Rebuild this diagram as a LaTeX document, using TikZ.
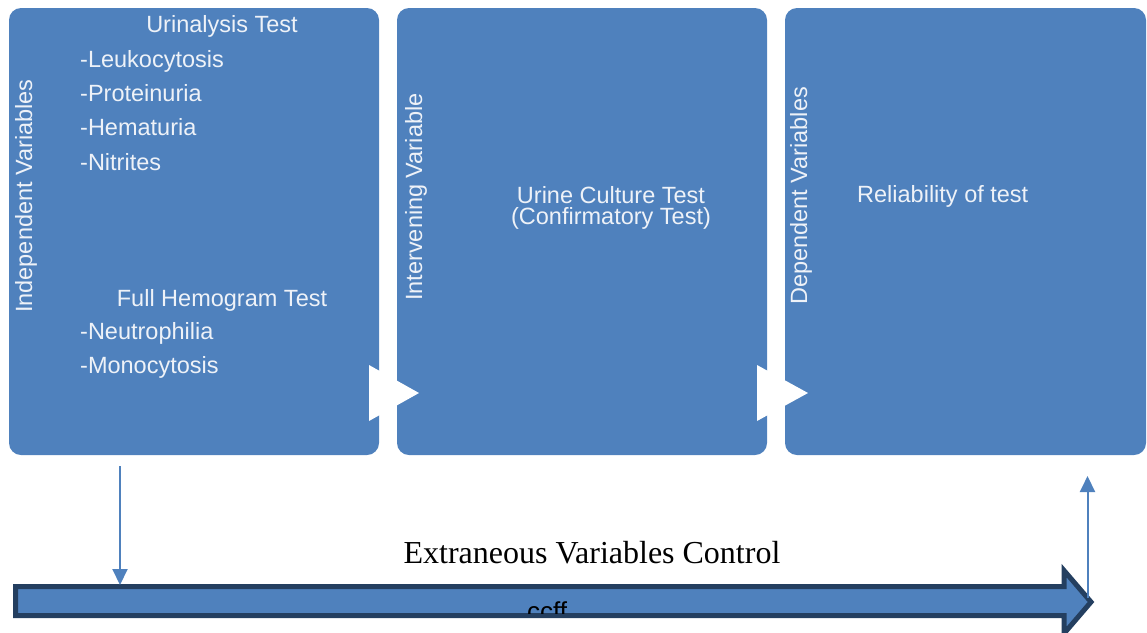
\documentclass[tikz,border=0pt]{standalone}
\usepackage{fontspec}
\newfontfamily\boxfont{Liberation Sans}
\newfontfamily\capfont{Liberation Serif}
\usetikzlibrary{arrows.meta}
\definecolor{boxblue}{HTML}{4F81BD}
\definecolor{navy}{HTML}{243F60}
\definecolor{txt}{HTML}{EEF2F8}
\begin{document}
\begin{tikzpicture}[x=1pt,y=-1pt,
 panel/.style={fill=boxblue, rounded corners=12pt, minimum height=447pt, inner sep=0pt},
 lbl/.style={text=txt, font=\boxfont\fontsize{23.5}{23.5}\selectfont, inner sep=0pt},
 item/.style={lbl, anchor=base west},
 head/.style={lbl, anchor=base},
 side/.style={lbl, rotate=90, anchor=base west},
 link/.style={draw=boxblue, line width=2pt, -{Triangle[width=15pt,length=16pt]}},
 chevron/.style={fill=white},
 bigarrow/.style={draw=navy, line width=5pt, fill=boxblue, line join=miter}
]
\useasboundingbox (0,0) rectangle (1147,632);
% panels
\node[panel, minimum width=370pt] (iv) at (194,231.5) {};
\node[panel, minimum width=370pt] (mv) at (582,231.5) {};
\node[panel, minimum width=361pt] (dv) at (965.5,231.5) {};
% chevrons between panels
\fill[chevron] (369,365) -- (419,393) -- (369,421) -- cycle;
\fill[chevron] (757,365) -- (808,393) -- (757,421) -- cycle;
% side labels
\node[side] (ivl) at (32,313) {Independent Variables};
\node[side] (mvl) at (422,301) {Intervening Variable};
\node[side] (dvl) at (807,305) {Dependent Variables};
% panel 1 text
\node[head] (ua) at (222,32) {Urinalysis Test};
\node[item] (i1) at (80,67) {-Leukocytosis};
\node[item] (i2) at (80,101) {-Proteinuria};
\node[item] (i3) at (80,135) {-Hematuria};
\node[item] (i4) at (80,170) {-Nitrites};
\node[head] (fh) at (222,306) {Full Hemogram Test};
\node[item] (i5) at (80,339) {-Neutrophilia};
\node[item] (i6) at (80,373) {-Monocytosis};
% panel 2 text
\node[lbl, align=center, font=\boxfont\fontsize{23.5}{21.5}\selectfont] (uc) at (611,208) {Urine Culture Test\\(Confirmatory Test)};
% panel 3 text
\node[item] (rt) at (857,202) {Reliability of test};
% big arrow
\draw[bigarrow] (15.5,586.5) -- (1064,586.5) -- (1064,570.5) -- (1091,602) -- (1064,633.5) -- (1064,615.5) -- (15.5,615.5) -- cycle;
\begin{scope}
\clip (18,589) rectangle (1060,613);
\node[anchor=base, inner sep=0pt, font=\boxfont\fontsize{26}{26}\selectfont] (cc) at (547,620) {ccff};
\end{scope}
\node[anchor=base, inner sep=0pt, font=\capfont\fontsize{32}{32}\selectfont] (evc) at (592,563) {Extraneous Variables Control};
% thin connectors
\coordinate (dstart) at (120,466);
\coordinate (dend) at (120,585);
\coordinate (ustart) at (1087.5,598);
\coordinate (uend) at (1087.5,476);
\draw[link] (dstart) -- (dend);
\draw[link] (ustart) -- (uend);
\end{tikzpicture}
\end{document}
